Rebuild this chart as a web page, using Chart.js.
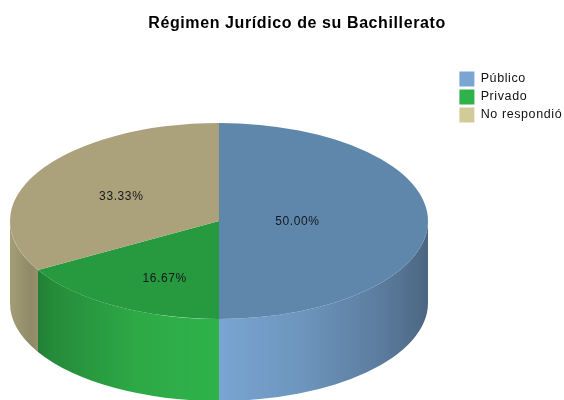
<!DOCTYPE html>
<html lang="es">
<head>
  <meta charset="utf-8" />
  <title>Régimen Jurídico de su Bachillerato</title>
  <script src="https://cdn.jsdelivr.net/npm/chart.js"></script>
  <style>
    html, body { margin: 0; padding: 0; background: #fff; }
    canvas { display: block; }
  </style>
</head>
<body>
  <canvas id="pieChart" width="564" height="400"></canvas>

  <script>
    const titleText = 'Régimen Jurídico de su Bachillerato';
    const categories = ['Público', 'Privado', 'No respondió'];
    const shares = [50.00, 16.67, 33.33];

    // top of the pie is darker than the legend / front wall
    const topColors = ['#5f87ab', '#279a3f', '#aba27c'];
    const baseColors = ['#79a5d2', '#2fb24a', '#d2ca97'];

    // look of the fake 3d
    const pieX = 219, pieY = 221, pieRx = 209, pieRy = 98, pieDepth = 82;
    // where the percent text sits, as a fraction of the radii
    const labelRadiusX = [0.375, 0.52, 0.54];
    const labelRadiusY = [0, 0.67, 0.51];
    const textFont = '12px "Liberation Sans"';

    function shade(hex, k) {
      const n = parseInt(hex.slice(1), 16);
      const r = Math.round((n >> 16 & 255) * k);
      const g = Math.round((n >> 8 & 255) * k);
      const b = Math.round((n & 255) * k);
      return `rgb(${r},${g},${b})`;
    }

    function wallGradient(ctx, color) {
      const g = ctx.createLinearGradient(pieX - pieRx, 0, pieX + pieRx, 0);
      g.addColorStop(0, shade(color, 0.78));
      g.addColorStop(0.05, shade(color, 0.68));
      g.addColorStop(0.1, shade(color, 0.78));
      g.addColorStop(0.3, shade(color, 0.95));
      g.addColorStop(0.5, shade(color, 1));
      g.addColorStop(0.7, shade(color, 0.9));
      g.addColorStop(0.9, shade(color, 0.74));
      g.addColorStop(1, shade(color, 0.62));
      return g;
    }

    const pie3d = {
      id: 'pie3d',
      beforeDraw(chart) {
        chart.ctx.letterSpacing = '0.6px';
      },
      beforeDatasetsDraw(chart) {
        const ctx = chart.ctx;
        const arcs = chart.getDatasetMeta(0).data;
        arcs.forEach((arc, i) => {
          // only the front half of the rim shows
          const a0 = Math.max(arc.startAngle, 0);
          const a1 = Math.min(arc.endAngle, Math.PI);
          if (a1 <= a0) return;
          ctx.beginPath();
          ctx.ellipse(pieX, pieY, pieRx, pieRy, 0, a0, a1);
          ctx.ellipse(pieX, pieY + pieDepth, pieRx, pieRy, 0, a1, a0, true);
          ctx.closePath();
          ctx.fillStyle = wallGradient(ctx, baseColors[i]);
          ctx.fill();
        });
        // squash the real pie into the top ellipse
        const c = arcs[0];
        ctx.save();
        ctx.translate(pieX, pieY);
        ctx.scale(pieRx / c.outerRadius, pieRy / c.outerRadius);
        ctx.translate(-c.x, -c.y);
      },
      afterDatasetsDraw(chart) {
        const ctx = chart.ctx;
        ctx.restore();
        ctx.save();
        ctx.font = textFont;
        ctx.fillStyle = '#14181c';
        ctx.textAlign = 'center';
        ctx.textBaseline = 'middle';
        chart.getDatasetMeta(0).data.forEach((arc, i) => {
          const mid = (arc.startAngle + arc.endAngle) / 2;
          const x = pieX + Math.cos(mid) * pieRx * labelRadiusX[i];
          const y = pieY + Math.sin(mid) * pieRy * labelRadiusY[i];
          ctx.fillText(shares[i].toFixed(2) + '%', x, y + 1);
        });
        ctx.restore();
      }
    };

    new Chart(document.getElementById('pieChart'), {
      type: 'pie',
      data: {
        labels: categories,
        datasets: [{
          data: shares,
          backgroundColor: topColors,
          borderWidth: 0,
          radius: pieRx
        }]
      },
      plugins: [pie3d],
      options: {
        responsive: false,
        animation: false,
        layout: { padding: { left: 29, right: -1, top: 0, bottom: 0 } },
        plugins: {
          tooltip: { enabled: false },
          title: {
            display: true,
            text: titleText,
            color: '#000',
            font: { family: 'Liberation Sans', size: 16, weight: 'bold' },
            padding: { top: 14, bottom: 26 }
          },
          legend: {
            position: 'right',
            align: 'start',
            // blank legend title, only pushes the entries down under the chart title
            title: {
              display: true,
              text: ' ',
              font: { family: 'Liberation Sans', size: 12 },
              padding: { top: 0, bottom: 54 }
            },
            labels: {
              font: { family: 'Liberation Sans', size: 12.5 },
              boxWidth: 15,
              boxHeight: 15,
              padding: 3,
              generateLabels: () => categories.map((name, i) => ({
                text: name,
                fontColor: '#111',
                fillStyle: baseColors[i],
                strokeStyle: baseColors[i],
                lineWidth: 0,
                index: i
              }))
            }
          }
        }
      }
    });
  </script>
</body>
</html>
